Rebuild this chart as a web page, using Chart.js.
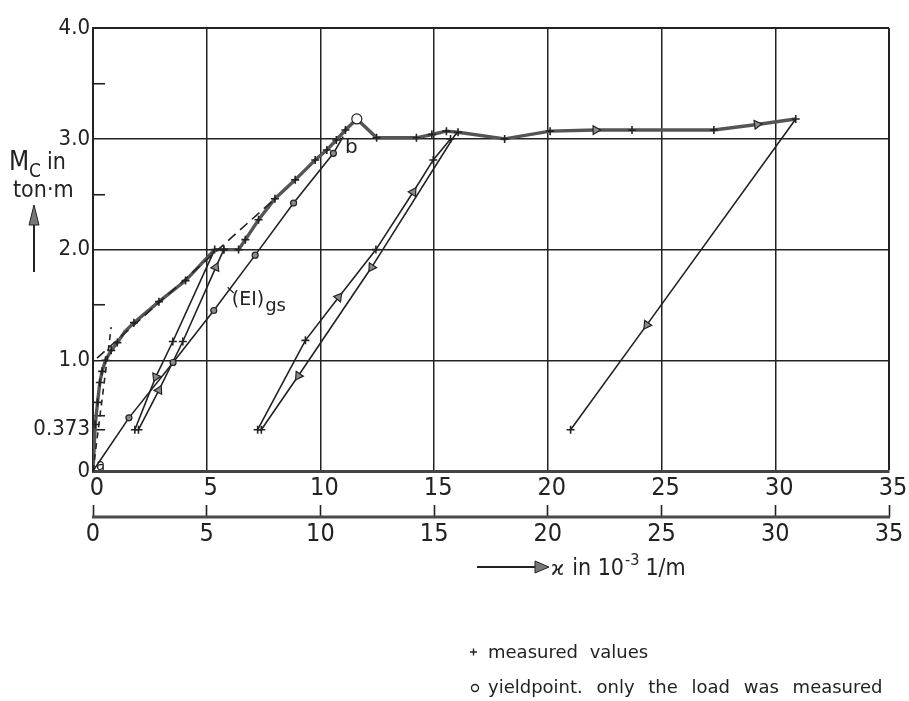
<!DOCTYPE html>
<html>
<head>
<meta charset="utf-8">
<script src="https://cdn.jsdelivr.net/npm/chart.js@4.4.1/dist/chart.umd.min.js"></script>
<style>
html, body { margin: 0; padding: 0; background: #fff; }
#wrap { width: 909px; height: 701px; position: relative; }
</style>
</head>
<body>
<div id="wrap"><canvas id="moment_graph"></canvas></div>
<script>
// curvature k [1e-3 1/m] and moment Mc [ton.m]
// kinds: m = measured (+), y = yield point (o), a = arrow, g = (EI)gs dot, '' = no mark
const firstLoadK   = [0, 0.1, 0.2, 0.3, 0.4, 0.55, 0.8, 1.07, 1.4, 1.8, 2.9, 4.07, 5.35];
const firstLoadM   = [0, 0.42, 0.62, 0.8, 0.9, 1.0, 1.09, 1.16, 1.26, 1.34, 1.53, 1.72, 2.0];
const firstLoadKnd = ['', 'm', 'm', 'm', 'm', 'm', 'm', 'm', '', 'm', 'm', 'm', 'm'];

const unload1K   = [5.35, 3.51, 2.76, 1.84];
const unload1M   = [2.0, 1.17, 0.85, 0.373];
const unload1Knd = ['', 'm', 'a', 'm'];

const reload1K   = [2.0, 2.9, 3.95, 5.4, 5.75];
const reload1M   = [0.373, 0.73, 1.17, 1.84, 2.0];
const reload1Knd = ['m', 'a', 'm', 'a', 'm'];

const secondLoadK   = [5.35, 5.75, 6.4, 6.7, 7.28, 8.0, 8.89, 9.77, 10.28, 10.7, 11.1, 11.6, 12.47, 14.22, 14.9, 15.54, 16.05, 18.1, 20.1, 22.1, 23.7, 27.3, 29.2, 30.9];
const secondLoadM   = [2.0, 2.0, 2.0, 2.09, 2.27, 2.46, 2.63, 2.81, 2.9, 2.99, 3.08, 3.18, 3.01, 3.01, 3.04, 3.07, 3.06, 3.0, 3.07, 3.08, 3.08, 3.08, 3.13, 3.18];
const secondLoadKnd = ['', 'm', 'm', 'm', 'm', 'm', 'm', 'm', 'm', 'm', 'm', 'y', 'm', 'm', 'm', 'm', 'm', 'm', 'm', 'a', 'm', 'm', 'a', 'm'];

const unload2K   = [16.05, 15.9, 12.25, 9.03, 7.4];
const unload2M   = [3.06, 3.03, 1.84, 0.86, 0.373];
const unload2Knd = ['', '', 'a', 'a', 'm'];

const reload2K   = [7.24, 9.34, 10.8, 12.44, 14.08, 14.96, 15.72];
const reload2M   = [0.373, 1.18, 1.57, 2.0, 2.52, 2.81, 3.0];
const reload2Knd = ['m', 'm', 'a', 'm', 'a', 'm', 'm'];

const lastUnloadK   = [30.9, 24.35, 21.0];
const lastUnloadM   = [3.18, 1.32, 0.373];
const lastUnloadKnd = ['', 'a', 'm'];

const eiK   = [0, 1.58, 3.52, 5.31, 7.13, 8.82, 10.57, 11.0];
const eiM   = [0, 0.48, 0.98, 1.45, 1.95, 2.42, 2.87, 3.02];
const eiKnd = ['', 'g', 'g', 'g', 'g', 'g', 'g', ''];

const tangentK = [0, 0.8];
const tangentM = [0, 1.3];
const secantK  = [0.18, 8.0];
const secantM  = [1.02, 2.46];

const xTicksMain = [0, 5, 10, 15, 20, 25, 30, 35];
const yTickValues = [0, 0.373, 1, 2, 3, 4];
const yTickLabels = ['0', '0.373', '1.0', '2.0', '3.0', '4.0'];
const yMinorTicks = [0.5, 1.5, 2.5, 3.5];

const NUM_FONT = "'Liberation Sans Narrow', 'DejaVu Sans Condensed', 'Liberation Sans', sans-serif";
const TXT_FONT = "'DejaVu Sans', sans-serif";
const INK = '#222';

function pts(xs, ys) {
    let out = [];
    for (let i = 0; i < xs.length; i++) {
        out.push({x: xs[i], y: ys[i]});
    }
    return out;
}

function kindOf(c) {
    let k = c.dataset.kinds;
    return k ? k[c.dataIndex] : '';
}

// arrow heads follow the direction of the path in screen space
function arrowAngle(c) {
    if (kindOf(c) != 'a') return 0;
    let d = c.dataset.data, i = c.dataIndex;
    let sx = c.chart.scales.x, sy = c.chart.scales.y;
    let p = d[Math.max(i - 1, 0)], n = d[Math.min(i + 1, d.length - 1)];
    let dx = sx.getPixelForValue(n.x) - sx.getPixelForValue(p.x);
    let dy = sy.getPixelForValue(n.y) - sy.getPixelForValue(p.y);
    return Math.atan2(dy, dx) * 180 / Math.PI + 90;
}

function series(xs, ys, kinds, color, width) {
    return {
        data: pts(xs, ys),
        kinds: kinds,
        showLine: true,
        borderColor: color,
        borderWidth: width,
        pointStyle: c => ({m: 'cross', y: 'circle', a: 'triangle', g: 'circle'}[kindOf(c)] || 'circle'),
        pointRadius: c => ({m: 4, y: 5, a: 5, g: 3}[kindOf(c)] || 0),
        pointBackgroundColor: c => ({y: '#fff', a: '#8a8a8a', g: '#8a8a8a'}[kindOf(c)] || INK),
        pointBorderColor: INK,
        pointBorderWidth: c => (kindOf(c) == 'm' ? 1.6 : 1.2),
        pointRotation: arrowAngle,
        pointHoverRadius: 0
    };
}

function dashed(xs, ys, dash) {
    return {
        data: pts(xs, ys),
        showLine: true,
        borderColor: INK,
        borderWidth: 1.6,
        borderDash: dash,
        pointRadius: 0
    };
}

// texts that are not axis ticks: axis titles, curve labels, key
const notes = {
    id: 'notes',
    afterDraw(chart) {
        const ctx = chart.ctx;
        const sx = chart.scales.x, sy = chart.scales.y, s2 = chart.scales.x2;
        ctx.save();
        ctx.fillStyle = INK;
        ctx.strokeStyle = INK;

        // second curvature scale: base line under the tick marks
        let ly = s2.top + 12;
        ctx.lineWidth = 3;
        ctx.strokeStyle = '#4a4a4a';
        ctx.beginPath();
        ctx.moveTo(s2.getPixelForValue(0) - 1, ly);
        ctx.lineTo(s2.getPixelForValue(35) + 1, ly);
        ctx.stroke();

        // y title  Mc in ton.m  with arrow
        ctx.textBaseline = 'alphabetic';
        ctx.textAlign = 'left';
        ctx.font = '26px ' + NUM_FONT;
        ctx.fillText('M', 9, 170);
        ctx.font = '19px ' + NUM_FONT;
        ctx.fillText('C', 29, 177);
        ctx.font = '23px ' + NUM_FONT;
        ctx.fillText('in', 47, 169);
        ctx.fillText('ton·m', 13, 197);
        ctx.lineWidth = 2;
        ctx.strokeStyle = INK;
        ctx.beginPath();
        ctx.moveTo(34, 272);
        ctx.lineTo(34, 222);
        ctx.stroke();
        ctx.fillStyle = '#777';
        ctx.beginPath();
        ctx.moveTo(34, 205); ctx.lineTo(29, 225); ctx.lineTo(39, 225); ctx.closePath();
        ctx.fill(); ctx.lineWidth = 1; ctx.stroke();
        ctx.fillStyle = INK;

        // x title  --> k in 10^-3 1/m
        let ty = s2.bottom + 22;
        ctx.lineWidth = 2;
        ctx.beginPath();
        ctx.moveTo(477, ty - 8); ctx.lineTo(537, ty - 8);
        ctx.stroke();
        ctx.fillStyle = '#777';
        ctx.beginPath();
        ctx.moveTo(535, ty - 14); ctx.lineTo(549, ty - 8); ctx.lineTo(535, ty - 2); ctx.closePath();
        ctx.fill(); ctx.lineWidth = 1; ctx.stroke();
        ctx.fillStyle = INK;
        let tx = 551;
        ctx.font = '20px ' + TXT_FONT;
        ctx.fillText('ϰ', tx, ty); tx += ctx.measureText('ϰ').width + 8;
        ctx.font = '23px ' + NUM_FONT;
        ctx.fillText('in 10', tx, ty); tx += ctx.measureText('in 10').width + 1;
        ctx.font = '16px ' + NUM_FONT;
        ctx.fillText('-3', tx, ty - 10); tx += ctx.measureText('-3').width + 6;
        ctx.font = '23px ' + NUM_FONT;
        ctx.fillText('1/m', tx, ty);

        // labels on the curves
        ctx.font = '20px ' + TXT_FONT;
        ctx.textAlign = 'center';
        ctx.textBaseline = 'middle';
        ctx.fillText('b', sx.getPixelForValue(11.36), sy.getPixelForValue(2.92));
        ctx.font = '15px ' + TXT_FONT;
        ctx.fillText('a', sx.getPixelForValue(0.33), sy.getPixelForValue(0.04));
        ctx.textAlign = 'left';
        ctx.textBaseline = 'alphabetic';
        let ex = sx.getPixelForValue(6.1), ey = sy.getPixelForValue(1.5);
        ctx.font = '19px ' + TXT_FONT;
        ctx.fillText('(EI)', ex, ey);
        let ew = ctx.measureText('(EI)').width;
        ctx.font = '18px ' + TXT_FONT;
        ctx.fillText('gs', ex + ew + 1, ey + 6);
        ctx.lineWidth = 1.2;
        ctx.beginPath();
        ctx.moveTo(sx.getPixelForValue(5.92), sy.getPixelForValue(1.66));
        ctx.lineTo(ex + 2, ey - 12);
        ctx.stroke();

        // key
        ctx.font = '18px ' + TXT_FONT;
        ctx.lineWidth = 1.4;
        ctx.beginPath();
        ctx.moveTo(470, 652); ctx.lineTo(477, 652);
        ctx.moveTo(473.5, 648.5); ctx.lineTo(473.5, 655.5);
        ctx.stroke();
        ctx.wordSpacing = '6px';
        ctx.fillText('measured values', 488, 658);
        ctx.beginPath();
        ctx.arc(475, 688, 3.5, 0, Math.PI * 2);
        ctx.stroke();
        ctx.wordSpacing = '8px';
        ctx.fillText('yieldpoint. only the load was measured', 488, 693);
        ctx.restore();
    }
};

window.addEventListener('load', function () {
    const ctx = document.getElementById('moment_graph').getContext('2d');
    const myChart = new Chart(ctx, {
        type: 'scatter',
        data: {
            datasets: [
                dashed(tangentK, tangentM, [6, 5]),
                dashed(secantK, secantM, [10, 6]),
                series(eiK, eiM, eiKnd, INK, 1.6),
                series(unload1K, unload1M, unload1Knd, INK, 1.6),
                series(reload1K, reload1M, reload1Knd, INK, 1.6),
                series(unload2K, unload2M, unload2Knd, INK, 1.6),
                series(reload2K, reload2M, reload2Knd, INK, 1.6),
                series(lastUnloadK, lastUnloadM, lastUnloadKnd, INK, 1.6),
                series(firstLoadK, firstLoadM, firstLoadKnd, '#555', 3.4),
                series(secondLoadK, secondLoadM, secondLoadKnd, '#555', 3.4)
            ]
        },
        options: {
            responsive: true,
            maintainAspectRatio: false,
            animation: false,
            devicePixelRatio: 1,
            layout: { padding: { top: 22, left: 0, right: 20, bottom: 148 } },
            plugins: {
                legend: { display: false },
                tooltip: { enabled: false }
            },
            scales: {
                x: {
                    type: 'linear',
                    position: 'bottom',
                    min: 0,
                    max: 35,
                    afterBuildTicks: s => { s.ticks = xTicksMain.map(v => ({value: v})); },
                    afterFit: s => { s.height = 34; },
                    ticks: {
                        color: INK,
                        font: { family: NUM_FONT, size: 25 },
                        padding: 2,
                        labelOffset: 4
                    },
                    grid: {
                        drawTicks: false,
                        color: c => (c.tick && c.tick.value == 0 ? 'rgba(0,0,0,0)' : INK),
                        lineWidth: c => (c.tick && c.tick.value == 35 ? 2 : 1.5)
                    },
                    border: { color: '#444', width: 3 }
                },
                x2: {
                    type: 'linear',
                    position: 'bottom',
                    weight: 1,
                    min: 0,
                    max: 35,
                    afterBuildTicks: s => { s.ticks = xTicksMain.map(v => ({value: v})); },
                    afterFit: s => { s.height = 48; },
                    ticks: {
                        color: INK,
                        font: { family: NUM_FONT, size: 25 },
                        padding: 2
                    },
                    grid: {
                        drawOnChartArea: false,
                        drawTicks: true,
                        tickLength: 12,
                        tickColor: INK,
                        tickWidth: 1.6,
                        color: INK
                    },
                    border: { display: false }
                },
                y: {
                    type: 'linear',
                    min: 0,
                    max: 4,
                    afterBuildTicks: s => {
                        s.ticks = yTickValues.concat(yMinorTicks).sort((a, b) => a - b).map(v => ({value: v}));
                    },
                    afterFit: s => { s.width = 93; },
                    ticks: {
                        color: INK,
                        font: { family: NUM_FONT, size: 22 },
                        padding: 15,
                        callback: v => {
                            let i = yTickValues.indexOf(v);
                            return i >= 0 ? yTickLabels[i] : '';
                        }
                    },
                    grid: {
                        drawTicks: true,
                        tickLength: -12,
                        tickWidth: 1.6,
                        tickColor: c => (c.tick && (yMinorTicks.includes(c.tick.value) || c.tick.value == 0.373) ? INK : 'rgba(0,0,0,0)'),
                        color: c => (c.tick && [1, 2, 3, 4].includes(c.tick.value) ? INK : 'rgba(0,0,0,0)'),
                        lineWidth: c => (c.tick && c.tick.value == 4 ? 2 : 1.5)
                    },
                    border: { color: INK, width: 2 }
                }
            }
        },
        plugins: [notes]
    });
});
</script>
</body>
</html>
